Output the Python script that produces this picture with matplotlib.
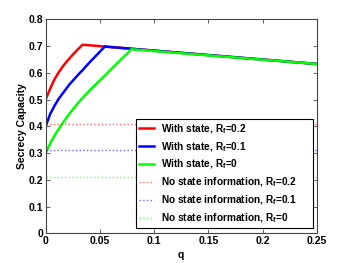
import matplotlib
matplotlib.use("Agg")
import matplotlib.pyplot as plt

plt.rcParams['font.family'] = ['Liberation Sans', 'DejaVu Sans']
plt.rcParams['font.weight'] = 'bold'
plt.rcParams['mathtext.fontset'] = 'custom'
plt.rcParams['mathtext.rm'] = 'Liberation Sans:bold'
plt.rcParams['mathtext.it'] = 'Liberation Sans:bold'
plt.rcParams['mathtext.bf'] = 'Liberation Sans:bold'

# Data
q_red = [0, 0.004, 0.008, 0.012, 0.016, 0.02, 0.025, 0.03, 0.034, 0.25]
v_red = [0.50, 0.54, 0.575, 0.602, 0.625, 0.645, 0.668, 0.689, 0.705, 0.633]

q_blue = [0, 0.004, 0.008, 0.012, 0.017, 0.022, 0.026, 0.03, 0.034, 0.04, 0.045, 0.05, 0.0545, 0.25]
v_blue = [0.40, 0.445, 0.476, 0.503, 0.53, 0.557, 0.575, 0.593, 0.61, 0.637, 0.658, 0.679, 0.698, 0.633]

q_green = [0, 0.005, 0.01, 0.015, 0.02, 0.025, 0.03, 0.035, 0.04, 0.045, 0.05, 0.056, 0.06, 0.065, 0.07, 0.075, 0.079, 0.25]
v_green = [0.30, 0.343, 0.378, 0.408, 0.437, 0.463, 0.488, 0.51, 0.532, 0.552, 0.572, 0.595, 0.612, 0.632, 0.652, 0.671, 0.688, 0.633]

q_range = [0, 0.25]
no_state_red = [0.41, 0.41]
no_state_blue = [0.31, 0.31]
no_state_green = [0.21, 0.21]

labels = ["With state, R$_f$=0.2", "With state, R$_f$=0.1", "With state, R$_f$=0",
          "No state information, R$_f$=0.2", "No state information, R$_f$=0.1",
          "No state information, R$_f$=0"]
xticks = [0, 0.05, 0.1, 0.15, 0.2, 0.25]
xticklabels = ["0", "0.05", "0.1", "0.15", "0.2", "0.25"]
yticks = [0, 0.1, 0.2, 0.3, 0.4, 0.5, 0.6, 0.7, 0.8]
yticklabels = ["0", "0.1", "0.2", "0.3", "0.4", "0.5", "0.6", "0.7", "0.8"]

fig = plt.figure(figsize=(3.5, 2.63), dpi=100)
ax = fig.add_axes([0.1306, 0.113, 0.7743, 0.8136])

ax.plot(q_red, v_red, color=(1, 0, 0), lw=1.8, label=labels[0])
ax.plot(q_blue, v_blue, color=(0, 0, 1), lw=1.8, label=labels[1])
ax.plot(q_green, v_green, color=(0, 1, 0), lw=1.8, label=labels[2])
ax.plot(q_range, no_state_red, color=(1, 0, 0), lw=1.0, ls=':', alpha=0.6, label=labels[3])
ax.plot(q_range, no_state_blue, color=(0, 0, 1), lw=1.0, ls=':', alpha=0.6, label=labels[4])
ax.plot(q_range, no_state_green, color=(0, 1, 0), lw=1.0, ls=':', alpha=0.6, label=labels[5])

ax.set_xlim(0, 0.25)
ax.set_ylim(0, 0.8)
ax.set_xticks(xticks)
ax.set_xticklabels(xticklabels)
ax.set_yticks(yticks)
ax.set_yticklabels(yticklabels)
ax.tick_params(direction='in', length=3, width=0.6, top=True, right=True,
               labelsize=7.5, pad=2, color='#444444')
for lab in ax.get_xticklabels() + ax.get_yticklabels():
    lab.set_fontweight('bold')
for s in ax.spines.values():
    s.set_color('#444444')
    s.set_linewidth(0.8)

ax.set_xlabel('q', fontsize=7.5, fontweight='bold', labelpad=3)
ax.set_ylabel('Secrecy Capacity', fontsize=7.5, fontweight='bold', labelpad=1)

leg = ax.legend(loc='upper left', bbox_to_anchor=(0.334, 0.025, 0.651, 0.509),
                mode='expand', fontsize=7.3,
                frameon=True, fancybox=False, edgecolor='black', framealpha=1,
                handlelength=1.5, handletextpad=0.6, labelspacing=0.42,
                borderpad=0.3, borderaxespad=0)
leg.get_frame().set_linewidth(0.8)
for t in leg.get_texts():
    t.set_fontweight('bold')

fig.savefig('out.png', dpi=100)
